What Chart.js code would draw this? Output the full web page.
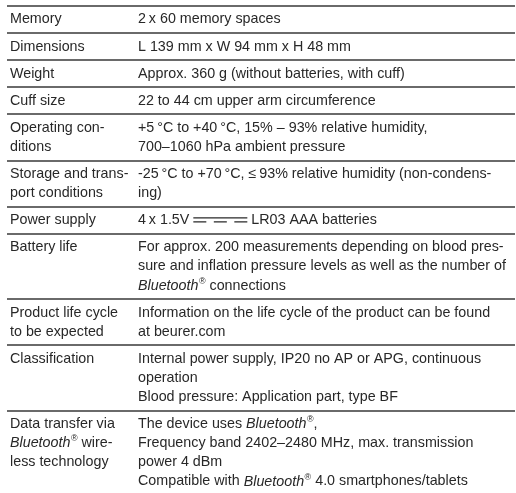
<!DOCTYPE html>
<html>
<head>
<meta charset="utf-8">
<script src="https://cdn.jsdelivr.net/npm/chart.js@4.4.1/dist/chart.umd.min.js"></script>
<style>
  body { margin: 0; background: #ffffff; }
  #wrap { width: 516px; height: 493px; }
</style>
</head>
<body>
<div id="wrap"><canvas id="tabelaEspecificacoes" width="516" height="493"></canvas></div>
<script>
// Dados da tabela: uma entrada por linha, cada uma com as suas linhas de texto
// "_" liga/desliga itálico, "⎓" é o símbolo de corrente contínua
const specNames = [
    ['Memory'],
    ['Dimensions'],
    ['Weight'],
    ['Cuff size'],
    ['Operating con-', 'ditions'],
    ['Storage and trans-', 'port conditions'],
    ['Power supply'],
    ['Battery life'],
    ['Product life cycle', 'to be expected'],
    ['Classification'],
    ['Data transfer via', '_Bluetooth_® wire-', 'less technology']
];

const specValues = [
    ['2\u2009x 60 memory spaces'],
    ['L 139 mm x W 94 mm x H 48 mm'],
    ['Approx. 360 g (without batteries, with cuff)'],
    ['22 to 44 cm upper arm circumference'],
    ['+5\u2009°C to +40\u2009°C, 15% – 93% relative humidity,', '700–1060 hPa ambient pressure'],
    ['-25\u2009°C to +70\u2009°C, ≤\u200993% relative humidity (non-condens-', 'ing)'],
    ['4\u2009x 1.5V ⎓ LR03 AAA batteries'],
    ['For approx. 200 measurements depending on blood pres-', 'sure and inflation pressure levels as well as the number of', '_Bluetooth_® connections'],
    ['Information on the life cycle of the product can be found', 'at beurer.com'],
    ['Internal power supply, IP20 no AP or APG, continuous', 'operation', 'Blood pressure: Application part, type BF'],
    ['The device uses _Bluetooth_®,', 'Frequency band 2402–2480 MHz, max. transmission', 'power 4 dBm', 'Compatible with _Bluetooth_® 4.0 smartphones/tablets']
];

// Estilo
const LINE_STEP = 19.1;  // distância entre linhas de texto
const ROW_EXTRA = 8;     // espaço extra por linha da tabela
const FONT_SIZE = 14.3;
const FONT_FAMILY = '"Liberation Sans", Arial, sans-serif';
const TEXT_COLOR = '#282828';
const RULE_COLOR = '#6a6a6a';
const COL_NAME = 3;
const COL_VALUE = 131;

// Limites de cada linha da tabela, calculados a partir do número de linhas de texto
let rowEdges = [0];
for (let i = 0; i < specNames.length; i++) {
    let n = Math.max(specNames[i].length, specValues[i].length);
    rowEdges.push(rowEdges[i] + n * LINE_STEP + ROW_EXTRA);
}

// Desenha um texto com trechos em itálico, ® elevado e o símbolo ⎓
function desenharTexto(ctx, texto, x, y) {
    let italico = false;
    let buffer = '';
    const fonte = () => (italico ? 'italic ' : '') + FONT_SIZE + 'px ' + FONT_FAMILY;

    const despejar = () => {
        if (!buffer) return;
        ctx.font = fonte();
        ctx.fillText(buffer, x, y);
        x += ctx.measureText(buffer).width;
        buffer = '';
    };

    for (const ch of texto) {
        if (ch === '_') {
            despejar();
            italico = !italico;
        } else if (ch === '®') {
            despejar();
            ctx.font = (italico ? 'italic ' : '') + '9px ' + FONT_FAMILY;
            ctx.fillText('®', x + 0.5, y - 4.5);
            x += ctx.measureText('®').width + 0.5;
        } else if (ch === '⎓') {
            despejar();
            const w = 54;
            ctx.save();
            ctx.strokeStyle = TEXT_COLOR;
            ctx.lineWidth = 1.3;
            ctx.beginPath();
            ctx.moveTo(x, y - 2.5);
            ctx.lineTo(x + w, y - 2.5);
            ctx.stroke();
            ctx.setLineDash([13, 7.5]);
            ctx.beginPath();
            ctx.moveTo(x, y + 1.5);
            ctx.lineTo(x + w, y + 1.5);
            ctx.stroke();
            ctx.restore();
            x += w;
        } else {
            buffer += ch;
        }
    }
    despejar();
}

const pluginTabela = {
    id: 'pluginTabela',
    afterDraw(chart) {
        const ctx = chart.ctx;
        const xs = chart.scales.x;
        const ys = chart.scales.y;
        ctx.save();
        ctx.fillStyle = TEXT_COLOR;
        ctx.textBaseline = 'middle';
        ctx.textAlign = 'left';
        for (let i = 0; i < specNames.length; i++) {
            const topo = rowEdges[i] + ROW_EXTRA / 2;
            specNames[i].forEach(function (linha, j) {
                desenharTexto(ctx, linha, xs.getPixelForValue(COL_NAME), ys.getPixelForValue(topo + (j + 0.5) * LINE_STEP));
            });
            specValues[i].forEach(function (linha, j) {
                desenharTexto(ctx, linha, xs.getPixelForValue(COL_VALUE), ys.getPixelForValue(topo + (j + 0.5) * LINE_STEP));
            });
        }
        ctx.restore();
    }
};

const config = {
    type: 'scatter',
    data: { datasets: [] },
    options: {
        responsive: false,
        animation: false,
        layout: { padding: { top: 6, left: 7, right: 1, bottom: 0 } },
        plugins: {
            legend: { display: false },
            tooltip: { enabled: false }
        },
        scales: {
            x: {
                type: 'linear',
                display: false,
                min: 0,
                max: 508
            },
            y: {
                type: 'linear',
                reverse: true,
                min: 0,
                max: 487, // altura da área do gráfico (a última linha passa da borda)
                afterBuildTicks: function (scale) {
                    scale.ticks = rowEdges.slice(0, -1).map(function (v) { return { value: v }; });
                },
                ticks: { display: false },
                border: { display: false },
                grid: { color: RULE_COLOR, lineWidth: 2, drawTicks: false }
            }
        }
    },
    plugins: [pluginTabela]
};

let myChart = new Chart(document.getElementById('tabelaEspecificacoes'), config);
</script>
</body>
</html>
